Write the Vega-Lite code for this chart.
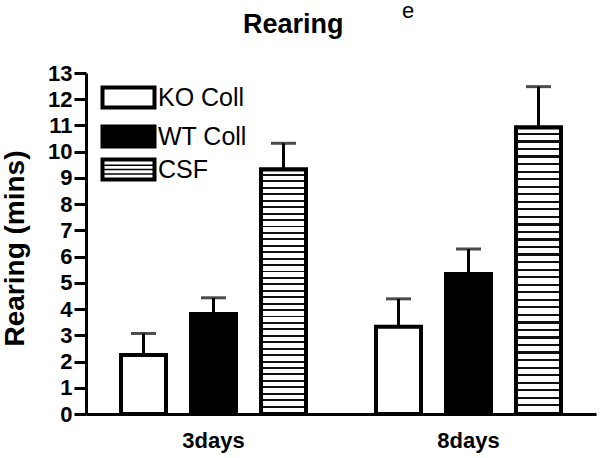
{
  "$schema": "https://vega.github.io/schema/vega-lite/v6.json",
  "autosize": {"type": "none"},
  "padding": {"left": 86, "top": 73, "right": 4, "bottom": 44},
  "width": 510,
  "height": 341,
  "background": "white",
  "title": {
    "text": "Rearing",
    "subtitle": "\u200b\u00a0\u00a0\u00a0\u00a0\u00a0\u00a0\u00a0\u00a0\u00a0\u00a0\u00a0\u00a0\u00a0\u00a0\u00a0\u00a0\u00a0\u00a0\u00a0\u00a0\u00a0\u00a0\u00a0\u00a0\u00a0\u00a0e",
    "anchor": "start",
    "frame": "group",
    "dx": 157,
    "offset": 12,
    "font": "Liberation Sans",
    "fontSize": 27,
    "fontWeight": "bold",
    "color": "black",
    "subtitleFont": "Liberation Sans",
    "subtitleFontSize": 22,
    "subtitleColor": "black",
    "subtitlePadding": -38
  },
  "config": {
    "view": {"stroke": null},
    "font": "Liberation Sans",
    "axis": {
      "domainColor": "black",
      "domainWidth": 3,
      "tickColor": "black",
      "tickWidth": 3,
      "labelColor": "black",
      "titleColor": "black",
      "grid": false,
      "labelFont": "Liberation Sans",
      "titleFont": "Liberation Sans"
    }
  },
  "data": {
    "values": [
      {"time": "3days", "group": "KO Coll", "value": 2.25, "upper": 3.07},
      {"time": "3days", "group": "WT Coll", "value": 3.81, "upper": 4.43},
      {"time": "3days", "group": "CSF", "value": 9.32, "upper": 10.32},
      {"time": "8days", "group": "KO Coll", "value": 3.33, "upper": 4.39},
      {"time": "8days", "group": "WT Coll", "value": 5.34, "upper": 6.29},
      {"time": "8days", "group": "CSF", "value": 10.92, "upper": 12.48}
    ]
  },
  "encoding": {
    "x": {
      "field": "time",
      "type": "nominal",
      "scale": {"paddingInner": 0, "paddingOuter": 0},
      "axis": {
        "title": null,
        "labelAngle": 0,
        "ticks": false,
        "tickSize": 0,
        "labelPadding": 16,
        "labelFontSize": 22,
        "labelFontWeight": "bold"
      }
    },
    "xOffset": {
      "field": "group",
      "type": "nominal",
      "scale": {"domain": ["KO Coll", "WT Coll", "CSF"], "paddingInner": 0.357, "paddingOuter": 0.5}
    },
    "y": {
      "field": "value",
      "type": "quantitative",
      "scale": {"domain": [0, 13], "nice": false},
      "axis": {
        "title": "Rearing (mins)",
        "values": [0, 1, 2, 3, 4, 5, 6, 7, 8, 9, 10, 11, 12, 13],
        "labelOverlap": false,
        "tickSize": 12,
        "labelPadding": 2,
        "labelFontSize": 22,
        "labelFontWeight": "bold",
        "titleFontSize": 28,
        "titleFontWeight": "bold",
        "titleX": -57,
        "titleY": 175
      }
    }
  },
  "layer": [
    {
      "mark": {"type": "bar", "stroke": "black", "strokeWidth": 4},
      "encoding": {
        "fill": {
          "field": "group",
          "type": "nominal",
          "scale": {"domain": ["KO Coll", "WT Coll", "CSF"], "range": ["white", "black", "black"]},
          "legend": {
            "title": null,
            "orient": "none",
            "legendX": 30,
            "legendY": 12,
            "padding": 0,
            "symbolType": "M-2.6,-1H2.6V1H-2.6Z",
            "symbolSize": 400,
            "symbolStrokeColor": "black",
            "symbolStrokeWidth": 4,
            "symbolOpacity": 1,
            "labelFontSize": 25,
            "labelColor": "black",
            "labelOffset": 17,
            "labelLimit": 300,
            "rowPadding": 2,
            "encoding": {
              "symbols": {
                "shape": {
                  "value": {
                    "expr": "datum.value === 'CSF' ? 'M-2.8,-1.2H2.8V1.2H-2.8Z M-2.4,-0.8V-0.5125H2.4V-0.8Z M-2.4,-0.3625V-0.075H2.4V-0.3625Z M-2.4,0.075V0.3625H2.4V0.075Z M-2.4,0.5125V0.8H2.4V0.5125Z' : 'M-2.6,-1H2.6V1H-2.6Z'"
                  }
                },
                "stroke": {"value": "black"},
                "strokeWidth": {"value": {"expr": "datum.value === 'CSF' ? 0 : 4"}},
                "opacity": {"value": 1}
              }
            }
          }
        }
      }
    },
    {
      "transform": [{"filter": "datum.group === 'CSF'"}],
      "mark": {
        "type": "bar",
        "stroke": "black",
        "strokeWidth": 4,
        "fill": {
          "gradient": "linear", "x1": 0, "y1": 0, "x2": 0, "y2": 1,
          "stops": [
            {"offset": 0, "color": "white"},
            {"offset": 0.01842, "color": "white"}, {"offset": 0.01842, "color": "#111"}, {"offset": 0.02632, "color": "#111"}, {"offset": 0.02632, "color": "white"},
            {"offset": 0.04474, "color": "white"}, {"offset": 0.04474, "color": "#111"}, {"offset": 0.05263, "color": "#111"}, {"offset": 0.05263, "color": "white"},
            {"offset": 0.07105, "color": "white"}, {"offset": 0.07105, "color": "#111"}, {"offset": 0.07895, "color": "#111"}, {"offset": 0.07895, "color": "white"},
            {"offset": 0.09737, "color": "white"}, {"offset": 0.09737, "color": "#111"}, {"offset": 0.10526, "color": "#111"}, {"offset": 0.10526, "color": "white"},
            {"offset": 0.12368, "color": "white"}, {"offset": 0.12368, "color": "#111"}, {"offset": 0.13158, "color": "#111"}, {"offset": 0.13158, "color": "white"},
            {"offset": 0.15, "color": "white"}, {"offset": 0.15, "color": "#111"}, {"offset": 0.15789, "color": "#111"}, {"offset": 0.15789, "color": "white"},
            {"offset": 0.17632, "color": "white"}, {"offset": 0.17632, "color": "#111"}, {"offset": 0.18421, "color": "#111"}, {"offset": 0.18421, "color": "white"},
            {"offset": 0.20263, "color": "white"}, {"offset": 0.20263, "color": "#111"}, {"offset": 0.21053, "color": "#111"}, {"offset": 0.21053, "color": "white"},
            {"offset": 0.22895, "color": "white"}, {"offset": 0.22895, "color": "#111"}, {"offset": 0.23684, "color": "#111"}, {"offset": 0.23684, "color": "white"},
            {"offset": 0.25526, "color": "white"}, {"offset": 0.25526, "color": "#111"}, {"offset": 0.26316, "color": "#111"}, {"offset": 0.26316, "color": "white"},
            {"offset": 0.28158, "color": "white"}, {"offset": 0.28158, "color": "#111"}, {"offset": 0.28947, "color": "#111"}, {"offset": 0.28947, "color": "white"},
            {"offset": 0.30789, "color": "white"}, {"offset": 0.30789, "color": "#111"}, {"offset": 0.31579, "color": "#111"}, {"offset": 0.31579, "color": "white"},
            {"offset": 0.33421, "color": "white"}, {"offset": 0.33421, "color": "#111"}, {"offset": 0.34211, "color": "#111"}, {"offset": 0.34211, "color": "white"},
            {"offset": 0.36053, "color": "white"}, {"offset": 0.36053, "color": "#111"}, {"offset": 0.36842, "color": "#111"}, {"offset": 0.36842, "color": "white"},
            {"offset": 0.38684, "color": "white"}, {"offset": 0.38684, "color": "#111"}, {"offset": 0.39474, "color": "#111"}, {"offset": 0.39474, "color": "white"},
            {"offset": 0.41316, "color": "white"}, {"offset": 0.41316, "color": "#111"}, {"offset": 0.42105, "color": "#111"}, {"offset": 0.42105, "color": "white"},
            {"offset": 0.43947, "color": "white"}, {"offset": 0.43947, "color": "#111"}, {"offset": 0.44737, "color": "#111"}, {"offset": 0.44737, "color": "white"},
            {"offset": 0.46579, "color": "white"}, {"offset": 0.46579, "color": "#111"}, {"offset": 0.47368, "color": "#111"}, {"offset": 0.47368, "color": "white"},
            {"offset": 0.49211, "color": "white"}, {"offset": 0.49211, "color": "#111"}, {"offset": 0.5, "color": "#111"}, {"offset": 0.5, "color": "white"},
            {"offset": 0.51842, "color": "white"}, {"offset": 0.51842, "color": "#111"}, {"offset": 0.52632, "color": "#111"}, {"offset": 0.52632, "color": "white"},
            {"offset": 0.54474, "color": "white"}, {"offset": 0.54474, "color": "#111"}, {"offset": 0.55263, "color": "#111"}, {"offset": 0.55263, "color": "white"},
            {"offset": 0.57105, "color": "white"}, {"offset": 0.57105, "color": "#111"}, {"offset": 0.57895, "color": "#111"}, {"offset": 0.57895, "color": "white"},
            {"offset": 0.59737, "color": "white"}, {"offset": 0.59737, "color": "#111"}, {"offset": 0.60526, "color": "#111"}, {"offset": 0.60526, "color": "white"},
            {"offset": 0.62368, "color": "white"}, {"offset": 0.62368, "color": "#111"}, {"offset": 0.63158, "color": "#111"}, {"offset": 0.63158, "color": "white"},
            {"offset": 0.65, "color": "white"}, {"offset": 0.65, "color": "#111"}, {"offset": 0.65789, "color": "#111"}, {"offset": 0.65789, "color": "white"},
            {"offset": 0.67632, "color": "white"}, {"offset": 0.67632, "color": "#111"}, {"offset": 0.68421, "color": "#111"}, {"offset": 0.68421, "color": "white"},
            {"offset": 0.70263, "color": "white"}, {"offset": 0.70263, "color": "#111"}, {"offset": 0.71053, "color": "#111"}, {"offset": 0.71053, "color": "white"},
            {"offset": 0.72895, "color": "white"}, {"offset": 0.72895, "color": "#111"}, {"offset": 0.73684, "color": "#111"}, {"offset": 0.73684, "color": "white"},
            {"offset": 0.75526, "color": "white"}, {"offset": 0.75526, "color": "#111"}, {"offset": 0.76316, "color": "#111"}, {"offset": 0.76316, "color": "white"},
            {"offset": 0.78158, "color": "white"}, {"offset": 0.78158, "color": "#111"}, {"offset": 0.78947, "color": "#111"}, {"offset": 0.78947, "color": "white"},
            {"offset": 0.80789, "color": "white"}, {"offset": 0.80789, "color": "#111"}, {"offset": 0.81579, "color": "#111"}, {"offset": 0.81579, "color": "white"},
            {"offset": 0.83421, "color": "white"}, {"offset": 0.83421, "color": "#111"}, {"offset": 0.84211, "color": "#111"}, {"offset": 0.84211, "color": "white"},
            {"offset": 0.86053, "color": "white"}, {"offset": 0.86053, "color": "#111"}, {"offset": 0.86842, "color": "#111"}, {"offset": 0.86842, "color": "white"},
            {"offset": 0.88684, "color": "white"}, {"offset": 0.88684, "color": "#111"}, {"offset": 0.89474, "color": "#111"}, {"offset": 0.89474, "color": "white"},
            {"offset": 0.91316, "color": "white"}, {"offset": 0.91316, "color": "#111"}, {"offset": 0.92105, "color": "#111"}, {"offset": 0.92105, "color": "white"},
            {"offset": 0.93947, "color": "white"}, {"offset": 0.93947, "color": "#111"}, {"offset": 0.94737, "color": "#111"}, {"offset": 0.94737, "color": "white"},
            {"offset": 0.96579, "color": "white"}, {"offset": 0.96579, "color": "#111"}, {"offset": 0.97368, "color": "#111"}, {"offset": 0.97368, "color": "white"},
            {"offset": 0.99211, "color": "white"}, {"offset": 0.99211, "color": "#111"}, {"offset": 1, "color": "#111"}
          ]
        }
      }
    },
    {
      "mark": {"type": "rule", "color": "black", "strokeWidth": 3},
      "encoding": {
        "y2": {"field": "upper"}
      }
    },
    {
      "mark": {"type": "tick", "color": "black", "thickness": 3, "size": 25, "orient": "horizontal"},
      "encoding": {
        "y": {
          "field": "upper",
          "type": "quantitative",
          "axis": {
            "title": "Rearing (mins)",
            "values": [0, 1, 2, 3, 4, 5, 6, 7, 8, 9, 10, 11, 12, 13],
            "labelOverlap": false,
            "tickSize": 12,
            "labelPadding": 2,
            "labelFontSize": 22,
            "labelFontWeight": "bold",
            "titleFontSize": 28,
            "titleFontWeight": "bold",
            "titleX": -57,
            "titleY": 175
          }
        }
      }
    }
  ]
}
